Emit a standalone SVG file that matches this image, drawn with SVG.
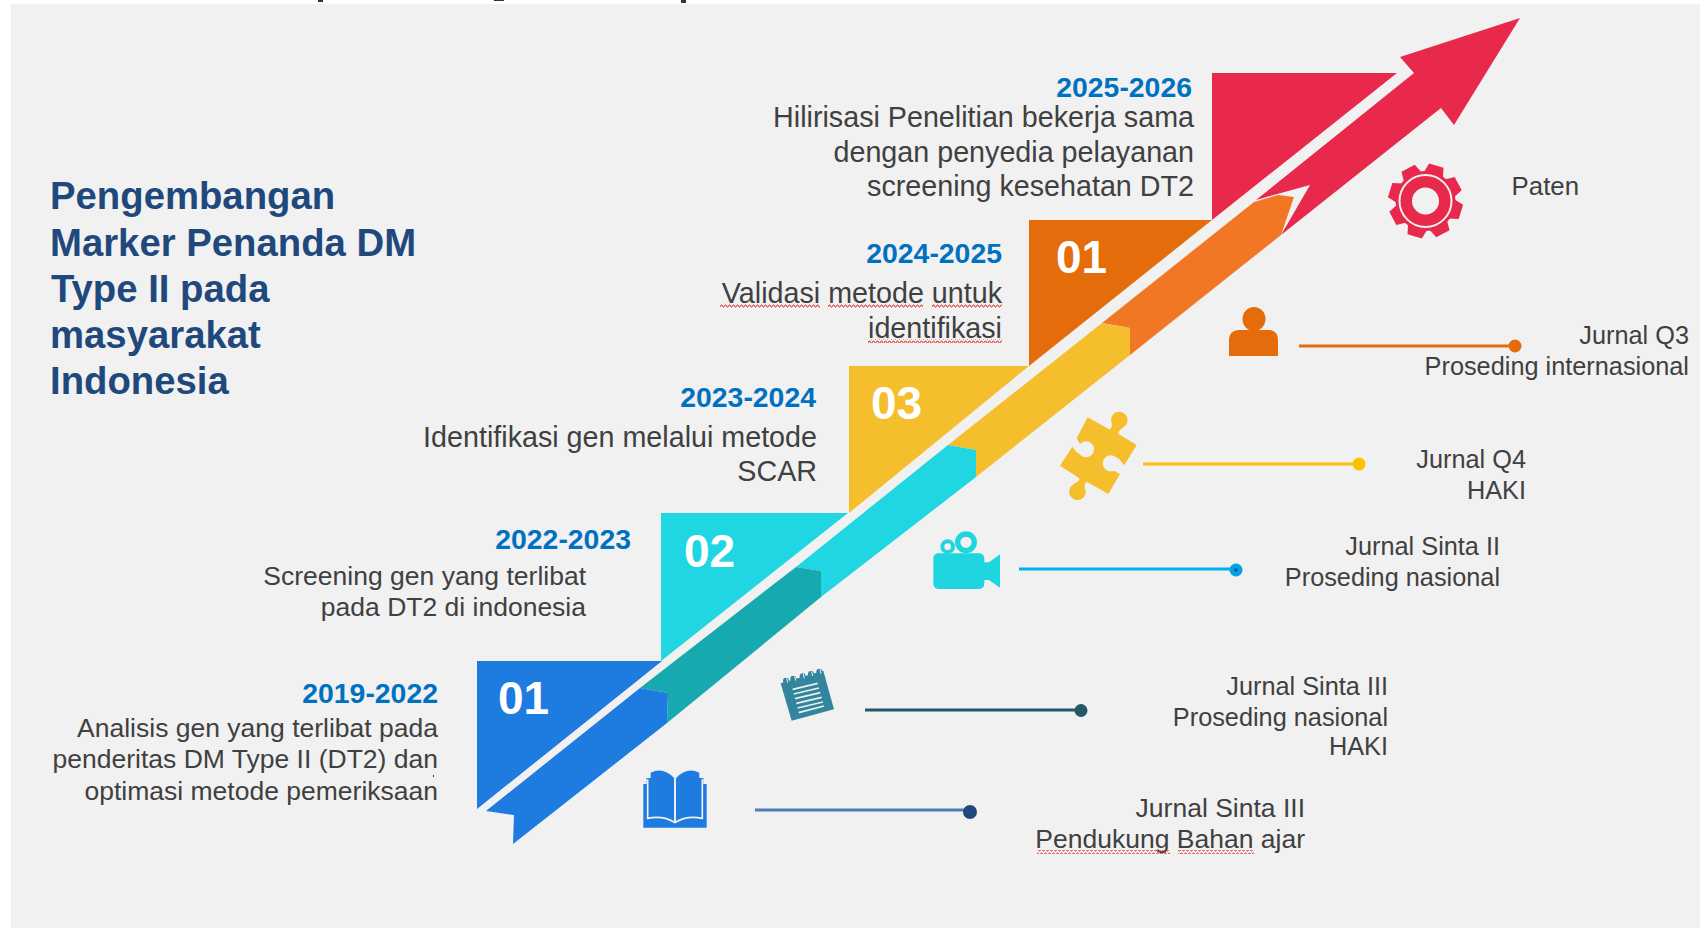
<svg xmlns="http://www.w3.org/2000/svg" width="1700" height="928" viewBox="0 0 1700 928">
<style>
text{font-family:"Liberation Sans",Arial,sans-serif}
.t{font-size:38.3px;font-weight:700;fill:#1f497d}
.d{font-size:28.4px;font-weight:700;fill:#0070c0;text-anchor:end}
.b{font-size:28.7px;fill:#404040;text-anchor:end}
.s{font-size:26.5px;fill:#404040;text-anchor:end}
.r{font-size:25.3px;fill:#404040;text-anchor:end}
.n{font-size:46px;font-weight:700;fill:#fff}
.l{stroke-width:3;fill:none}
</style>
<defs>
<pattern id="sq" width="4" height="4" patternUnits="userSpaceOnUse"><path d="M0 3L1 1L2 1L3 3L4 3" fill="none" stroke="#e0403a" stroke-width="1"/></pattern>
<polygon id="tooth" points="-10,-27 -7.5,-37 7.5,-37 10,-27" fill="#e8294c"/>
</defs>
<rect width="1700" height="928" fill="#fff"/>
<rect x="11" y="4" width="1689" height="924" fill="#f1f1f1"/>
<g id="top-fragments" fill="#333"><rect x="318" y="0" width="5" height="2"/><rect x="494" y="0" width="10" height="1"/><rect x="681" y="0" width="5" height="3"/></g>

<g id="step-1"><polygon points="477,661 662,661 477,809" fill="#1e7be0"/><text class="n" x="498" y="714">01</text></g>
<g id="step-2"><polygon points="661,513 848,513 661,661" fill="#1fd6e2"/><text class="n" x="684" y="567">02</text></g>
<g id="step-3"><polygon points="849,366 1029,366 849,513" fill="#f4be2c"/><text class="n" x="871" y="419">03</text></g>
<g id="step-4"><polygon points="1029,220 1212,220 1029,366" fill="#e46c0a"/><text class="n" x="1056" y="273">01</text></g>
<g id="step-5"><polygon points="1212,73 1397,73 1212,220" fill="#e8294c"/></g>

<g id="arrow">
<polygon points="1520,18 1400,57 1414,73 1256,200 1310,185 1281,235 1441,108 1454,125" fill="#e8294c"/>
<polygon points="1102,323 1254,202 1278,195 1294,197 1281,235 1130,355 1130,328" fill="#f27725"/>
<polygon points="948,445 1102,323 1130,328 1130,355 976,477 976,450" fill="#f4be2c"/>
<polygon points="796,567 948,445 976,450 976,477 821,597 821,571" fill="#1fd6e2"/>
<polygon points="640,688 796,567 821,571 821,597 667,723 668,693" fill="#17a9b0"/>
<polygon points="486,811 640,688 668,693 667,723 513,844 514,815" fill="#1e7be0"/>
</g>

<g id="title"><text class="t" x="50" y="209">Pengembangan</text><text class="t" x="50" y="256">Marker Penanda DM</text><text class="t" x="51" y="302">Type II pada</text><text class="t" x="50" y="348">masyarakat</text><text class="t" x="50" y="394">Indonesia</text></g>

<g id="label-2025"><text class="d" x="1192" y="97">2025-2026</text><text class="b" x="1194" y="127">Hilirisasi Penelitian bekerja sama</text><text class="b" x="1194" y="162">dengan penyedia pelayanan</text><text class="b" x="1194" y="196">screening kesehatan DT2</text></g>
<g id="label-2024"><text class="d" x="1002" y="263">2024-2025</text><text class="b" x="1002" y="303">Validasi metode untuk</text><text class="b" x="1002" y="338">identifikasi</text>
<rect x="720" y="304" width="100" height="4" fill="url(#sq)"/><rect x="828" y="304" width="95" height="4" fill="url(#sq)"/><rect x="932" y="304" width="70" height="4" fill="url(#sq)"/><rect x="868" y="339" width="134" height="4" fill="url(#sq)"/></g>
<g id="label-2023"><text class="d" x="816" y="407">2023-2024</text><text class="b" x="817" y="447">Identifikasi gen melalui metode</text><text class="b" x="817" y="481">SCAR</text></g>
<g id="label-2022"><text class="d" x="631" y="549">2022-2023</text><text class="s" x="586" y="585">Screening gen yang terlibat</text><text class="s" x="586" y="616">pada DT2 di indonesia</text></g>
<g id="label-2019"><text class="d" x="438" y="703">2019-2022</text><text class="s" x="438" y="737">Analisis gen yang terlibat pada</text><text class="s" x="438" y="768">penderitas DM Type II (DT2) dan</text><text class="s" x="438" y="800">optimasi metode pemeriksaan</text><rect x="433" y="775" width="1" height="2" fill="#333"/></g>

<g id="connectors">
<path class="l" d="M1299 346H1515" stroke="#e46c0a"/><circle cx="1515" cy="346" r="6.5" fill="#e46c0a"/>
<path class="l" d="M1143 464H1359" stroke="#ffc000"/><circle cx="1359" cy="464" r="6.5" fill="#ffc000"/>
<path class="l" d="M1019 569H1236" stroke="#00b0f0"/><circle cx="1236" cy="570" r="6.5" fill="#00a2e8"/><circle cx="1236" cy="570" r="1.8" fill="#1f497d"/>
<path class="l" d="M865 710H1081" stroke="#215968"/><circle cx="1081" cy="710.500" r="6.500" fill="#215968"/>
<path class="l" d="M755 810H970" stroke="#4a7ebb"/><circle cx="970" cy="812" r="7" fill="#1f497d"/>
</g>

<g id="gear"><g transform="translate(1425.500,201)">
<use href="#tooth" transform="rotate(17)"/><use href="#tooth" transform="rotate(62)"/><use href="#tooth" transform="rotate(107)"/><use href="#tooth" transform="rotate(152)"/><use href="#tooth" transform="rotate(197)"/><use href="#tooth" transform="rotate(242)"/><use href="#tooth" transform="rotate(287)"/><use href="#tooth" transform="rotate(332)"/>
<circle r="30" fill="#e8294c"/><circle r="26" fill="none" stroke="#f1f1f1" stroke-width="2"/><circle r="13.500" fill="#f1f1f1"/></g>
<text class="r" x="1579" y="195" style="font-size:25.800px">Paten</text></g>

<g id="person"><ellipse cx="1254" cy="319" rx="11.500" ry="12" fill="#e46c0a"/><path d="M1229 356V340Q1229 331 1238 330H1270Q1278 331 1278 340V356Z" fill="#e46c0a"/>
<text class="r" x="1689" y="344">Jurnal Q3</text><text class="r" x="1689" y="375">Proseding internasional</text></g>

<g id="puzzle"><path transform="translate(1040,400) scale(.3333)" fill="#f4be2c" d="M143 52L207 88C214 88 217 80 215 70A25 25 0 1 1 250 82C240 92 232 95 236 102L290 135L253 195C245 190 240 175 228 172A24 24 0 1 0 222 212L240 222L205 282L143 247C137 245 133 252 134 263A25 25 0 1 1 99 254C110 245 120 245 118 235L60 197L97 140C105 150 110 158 118 161A24 24 0 1 0 120 132L110 115Z"/>
<text class="r" x="1526" y="468">Jurnal Q4</text><text class="r" x="1526" y="499">HAKI</text></g>

<g id="camera"><g transform="translate(920,520) scale(.3333)" fill="#1fd5e0"><rect x="40" y="100" width="153" height="107" rx="15"/><polygon points="190,127 207,127 240,103 240,203 207,180 190,180"/><circle cx="138" cy="67" r="25" fill="none" stroke="#1fd5e0" stroke-width="16"/><circle cx="83" cy="80" r="16" fill="none" stroke="#1fd5e0" stroke-width="12"/></g>
<text class="r" x="1500" y="555">Jurnal Sinta II</text><text class="r" x="1500" y="586">Proseding nasional</text></g>

<g id="notebook"><g transform="translate(630,650) scale(.3333)"><polygon points="452,100 580,62 612,178 485,212" fill="#33859d"/>
<g fill="#33859d"><circle cx="468" cy="92" r="9"/><circle cx="490" cy="86" r="9"/><circle cx="518" cy="79" r="9"/><circle cx="543" cy="72" r="9"/><circle cx="568" cy="65" r="9"/></g>
<path d="M470 85L473 98M494 79L497 92M520 72L523 85M545 65L548 78M570 58L573 71" stroke="#f1f1f1" stroke-width="3" fill="none"/>
<path d="M488 118L563 100M491 132L567 114M495 146L571 128M499 160L575 142M503 174L579 156M506 188L582 168" stroke="#e8f0f2" stroke-width="5" fill="none"/></g>
<text class="r" x="1388" y="695">Jurnal Sinta III</text><text class="r" x="1388" y="726">Proseding nasional</text><text class="r" x="1388" y="755">HAKI</text></g>

<g id="book"><g transform="translate(630,650) scale(.3333)"><path d="M40 402H50V384H62V368Q100 350 133 385V515H138V385Q170 350 208 368V384H220V402H230V533H40Z" fill="#1e7be0"/>
<path d="M53 388V505Q100 495 135 518Q170 495 217 505V388" fill="none" stroke="#f1f1f1" stroke-width="5"/><path d="M135 385V518" stroke="#f1f1f1" stroke-width="5"/></g>
<text class="s" x="1305" y="817">Jurnal Sinta III</text><text class="s" x="1305" y="848">Pendukung Bahan ajar</text><rect x="1037" y="850" width="133" height="4" fill="url(#sq)"/><rect x="1178" y="850" width="76" height="4" fill="url(#sq)"/></g>
</svg>
